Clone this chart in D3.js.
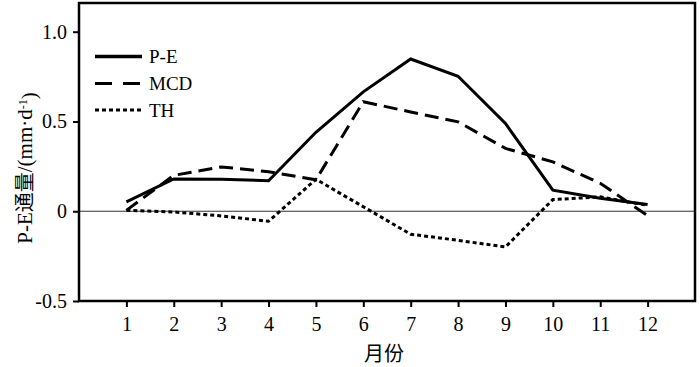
<!DOCTYPE html>
<html>
<head>
<meta charset="utf-8">
<script src="https://cdn.jsdelivr.net/npm/d3@7"></script>
<style>
  html, body { margin: 0; padding: 0; background: #fff; }
  svg { display: block; }
  text { font-family: "Liberation Serif", "Noto Sans CJK SC", serif; fill: #000; }
</style>
</head>
<body>
<svg id="chart" width="700" height="367"></svg>
<script>
const months = [1, 2, 3, 4, 5, 6, 7, 8, 9, 10, 11, 12];
const peValues  = [0.052, 0.18, 0.178, 0.17, 0.44, 0.665, 0.848, 0.752, 0.489, 0.117, 0.072, 0.037];
const mcdValues = [0.005, 0.2, 0.247, 0.22, 0.175, 0.61, 0.553, 0.498, 0.35, 0.275, 0.156, -0.025];
const thValues  = [0.005, -0.004, -0.026, -0.056, 0.178, 0.025, -0.128, -0.162, -0.199, 0.065, 0.08, 0.033];
const yTicks = [-0.5, 0, 0.5, 1.0];
const yTickLabels = ["-0.5", "0", "0.5", "1.0"];
const seriesNames = ["P-E", "MCD", "TH"];

const svg = d3.select("#chart");
const mLeft = 79, mRight = 695, mTop = 3, mBottom = 301;

const x = d3.scaleLinear().domain([0, 13]).range([mLeft, mRight]);
const y = d3.scaleLinear().domain([-0.5, 1.16]).range([mBottom, mTop]);

// zero line
svg.append("line")
  .attr("x1", mLeft).attr("x2", mRight)
  .attr("y1", y(0)).attr("y2", y(0))
  .attr("stroke", "#333").attr("stroke-width", 1);

// series
const styles = [
  { dash: null, width: 3 },
  { dash: "14,7", width: 3 },
  { dash: "4,3", width: 3 }
];
const data = [peValues, mcdValues, thValues];
const line = d3.line().x((d, i) => x(months[i])).y(d => y(d));

data.forEach((vals, k) => {
  svg.append("path")
    .datum(vals)
    .attr("d", line)
    .attr("fill", "none")
    .attr("stroke", "#000")
    .attr("stroke-width", styles[k].width)
    .attr("stroke-dasharray", styles[k].dash)
    .attr("stroke-linejoin", "miter");
});

// axes
const yAxis = d3.axisLeft(y).tickValues(yTicks)
  .tickFormat((d, i) => yTickLabels[i]).tickSize(6).tickPadding(6);
const gy = svg.append("g").attr("transform", `translate(${mLeft},0)`).call(yAxis);
gy.select(".domain").remove();
gy.selectAll("line").attr("stroke", "#000").attr("stroke-width", 2);
gy.selectAll("text").style("font-size", "20px").style("font-family", "Liberation Serif");

const xAxis = d3.axisBottom(x).tickValues(months)
  .tickFormat(d => String(d)).tickSize(6).tickPadding(10);
const gx = svg.append("g").attr("transform", `translate(0,${mBottom})`).call(xAxis);
gx.select(".domain").remove();
gx.selectAll("line").attr("stroke", "#000").attr("stroke-width", 2);
gx.selectAll("text").style("font-size", "20px").style("font-family", "Liberation Serif");

// frame
svg.append("rect")
  .attr("x", mLeft).attr("y", mTop)
  .attr("width", mRight - mLeft).attr("height", mBottom - mTop)
  .attr("fill", "none").attr("stroke", "#000").attr("stroke-width", 2.5);

// legend
const legY = [56.5, 83.5, 110];
seriesNames.forEach((name, k) => {
  svg.append("line")
    .attr("x1", 95).attr("x2", 142)
    .attr("y1", legY[k]).attr("y2", legY[k])
    .attr("stroke", "#000")
    .attr("stroke-width", k === 0 ? 3.5 : 3)
    .attr("stroke-dasharray", k === 1 ? "17,11" : (k === 2 ? "4,3" : null));
  svg.append("text")
    .attr("x", 149).attr("y", legY[k])
    .attr("dy", "0.35em")
    .style("font-size", "19px")
    .text(name);
});

// axis titles
svg.append("text")
  .attr("x", 384).attr("y", 361)
  .attr("text-anchor", "middle")
  .style("font-size", "20px")
  .style("font-family", "Noto Sans CJK SC")
  .text("月份");

const yt = svg.append("text")
  .attr("transform", "translate(32,168) rotate(-90)")
  .attr("text-anchor", "middle")
  .style("font-size", "21px");
yt.append("tspan").text("P-E");
yt.append("tspan").style("font-family", "Noto Sans CJK SC").style("font-size", "20px").text("通量");
yt.append("tspan").text("/(mm·d");
yt.append("tspan").attr("dy", "-0.45em").style("font-size", "12px").text("-1");
yt.append("tspan").attr("dy", "0.45em").text(")");
</script>
</body>
</html>
